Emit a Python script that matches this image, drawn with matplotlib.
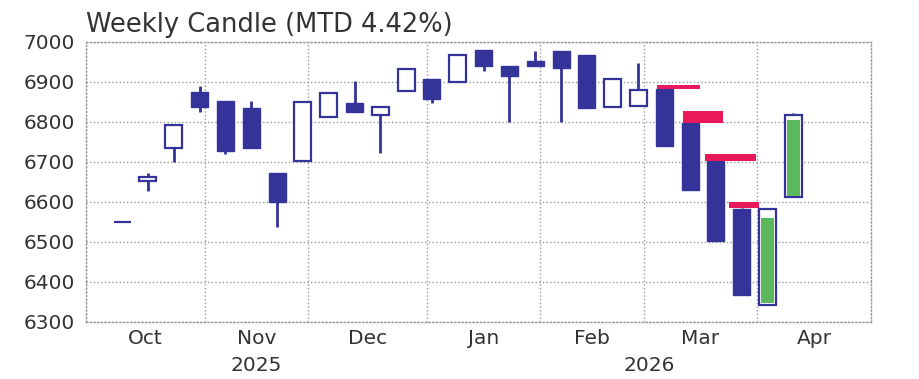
import numpy as np
import matplotlib.pyplot as plt

plt.rcParams['font.family'] = ['DejaVu Sans']

# weekly candles (week ending friday)
dates = ['2025-10-10', '2025-10-17', '2025-10-24', '2025-10-31', '2025-11-07', '2025-11-14',
         '2025-11-21', '2025-11-28', '2025-12-05', '2025-12-12', '2025-12-19', '2025-12-26',
         '2026-01-02', '2026-01-09', '2026-01-16', '2026-01-23', '2026-01-30', '2026-02-06',
         '2026-02-13', '2026-02-20', '2026-02-27', '2026-03-06', '2026-03-13', '2026-03-20',
         '2026-03-27', '2026-04-03', '2026-04-10']
opens = [6551, 6652, 6734, 6875, 6853, 6834, 6673, 6702, 6813, 6847, 6817, 6877,
         6907, 6901, 6980, 6941, 6952, 6978, 6967, 6837, 6840, 6882, 6797, 6702,
         6582, 6342, 6612]
highs = [6551, 6672, 6792, 6890, 6853, 6852, 6673, 6849, 6872, 6902, 6837, 6932,
         6907, 6967, 6980, 6941, 6978, 6978, 6967, 6908, 6947, 6882, 6797, 6702,
         6586, 6582, 6823]
lows = [6551, 6628, 6701, 6824, 6719, 6734, 6538, 6702, 6813, 6826, 6722, 6877,
        6847, 6901, 6928, 6799, 6941, 6799, 6836, 6837, 6840, 6740, 6630, 6502,
        6367, 6342, 6612]
closes = [6551, 6663, 6792, 6838, 6727, 6734, 6601, 6849, 6872, 6826, 6837, 6932,
          6857, 6967, 6940, 6915, 6941, 6934, 6836, 6908, 6881, 6740, 6630, 6502,
          6367, 6582, 6817]

# green inner bars on the last two weeks
green_dates = ['2026-04-03', '2026-04-10']
green_lo = [6347, 6616]
green_hi = [6560, 6805]

# red levels, x in business days from 2025-10-01
red_x0 = [110.6, 115.6, 119.9, 124.6]
red_x1 = [119.0, 123.4, 129.8, 130.3]
red_lo = [6882, 6798, 6702, 6586]
red_hi = [6892, 6827, 6720, 6599]

month_names = ['Oct', 'Nov', 'Dec', 'Jan', 'Feb', 'Mar', 'Apr']
month_starts = ['2025-10-01', '2025-11-01', '2025-12-01', '2026-01-01', '2026-02-01',
                '2026-03-01', '2026-04-01', '2026-05-01']
years = ['2025', '2026']
year_starts = ['2025-10-01', '2026-01-01', '2026-05-01']

blue = '#333399'
red = '#E8185A'
green = '#5CB85C'
grey = '#999999'
txt = '#333333'


def bday(d):
    # x axis counts weekdays only
    return np.busday_count('2025-10-01', np.array(d, dtype='datetime64[D]'))


x = bday(dates)
o = np.array(opens)
c = np.array(closes)
up = c >= o
w = 3.3

fig = plt.figure(figsize=(9.19, 3.79), dpi=100)
ax = fig.add_axes([0.0936, 0.1504, 0.854, 0.7388])

ax.vlines(x, lows, highs, color=blue, lw=2, zorder=2)
ax.bar(x[~up], (o - c)[~up], bottom=c[~up], width=w, color=blue, edgecolor=blue, lw=1, zorder=3)
ax.bar(x[up], (c - o)[up], bottom=o[up], width=w, facecolor='white', edgecolor=blue, lw=1.6, zorder=3)

gx = bday(green_dates)
ax.bar(gx, np.array(green_hi) - np.array(green_lo), bottom=green_lo, width=w * 0.78,
       color=green, lw=0, zorder=4)

ax.bar(red_x0, np.array(red_hi) - np.array(red_lo), bottom=red_lo,
       width=np.array(red_x1) - np.array(red_x0), align='edge', color=red, lw=0, zorder=5)

# month grid on first business day, labels in the middle of each month
ms = np.array([bday(np.busday_offset(m, 0, roll='forward')) for m in month_starts])
ax.set_xticks(ms[:-1])
ax.set_xticklabels([])
ax.set_xticks((ms[:-1] + ms[1:]) / 2, minor=True)
ax.set_xticklabels(month_names, minor=True)
ax.set_xlim(0, ms[-1])

ys = np.array([bday(np.busday_offset(m, 0, roll='forward')) for m in year_starts])
ys[-1] = ms[-1]
for i, yr in enumerate(years):
    ax.text((ys[i] + ys[i + 1]) / 2, -0.155, yr, transform=ax.get_xaxis_transform(),
            ha='center', va='center', fontsize=14.5, color=txt)

ax.set_ylim(6300, 7000)
ax.set_yticks(range(6300, 7001, 100))

ax.grid(True, which='major', ls=':', color=grey, lw=1)
ax.set_axisbelow(True)
for s in ax.spines.values():
    s.set_linestyle(':')
    s.set_color(grey)
    s.set_linewidth(1)
ax.tick_params(which='both', length=0, labelsize=14.5, labelcolor=txt)
ax.tick_params(axis='y', pad=8)
ax.tick_params(axis='x', which='minor', pad=5)

ax.set_title('Weekly Candle (MTD 4.42%)', loc='left', fontsize=18.5, color=txt, pad=7)

plt.savefig('out.png')
